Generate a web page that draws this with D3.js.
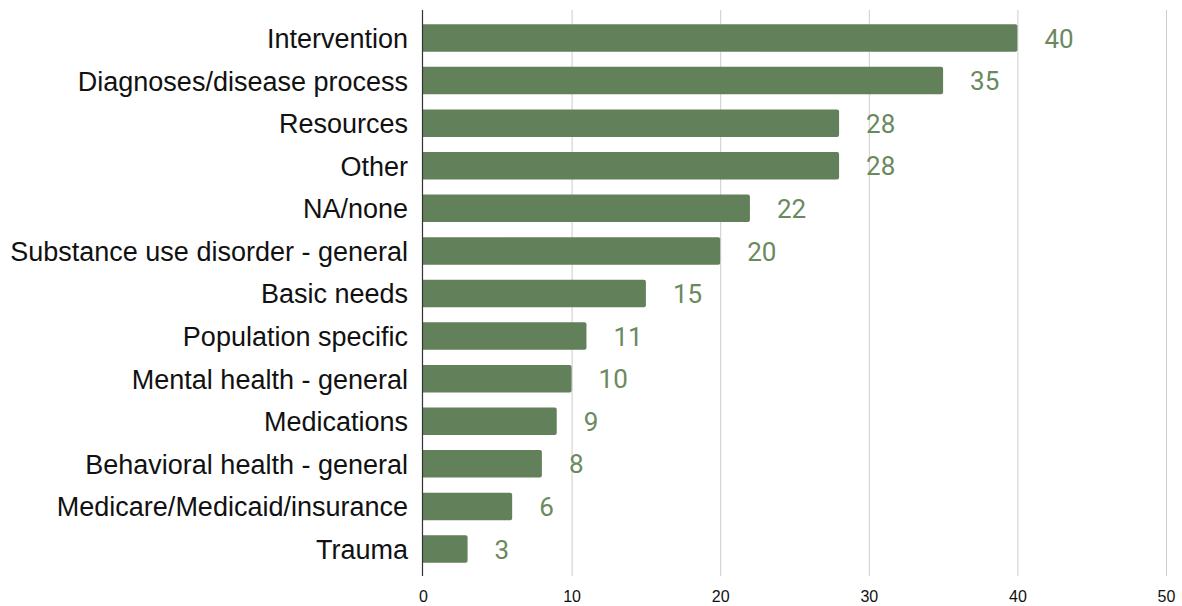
<!DOCTYPE html>
<html>
<head>
<meta charset="utf-8">
<script src="https://cdn.jsdelivr.net/npm/d3@7"></script>
<style>
  html, body { margin: 0; padding: 0; background: #fff; }
  svg { display: block; font-family: "Liberation Sans", Arial, sans-serif; }
</style>
</head>
<body>
<svg id="chart" width="1182" height="606"></svg>
<script>
// Topic categories and their counts
const categories = [
  "Intervention",
  "Diagnoses/disease process",
  "Resources",
  "Other",
  "NA/none",
  "Substance use disorder - general",
  "Basic needs",
  "Population specific",
  "Mental health - general",
  "Medications",
  "Behavioral health - general",
  "Medicare/Medicaid/insurance",
  "Trauma"
];
const counts = [40, 35, 28, 28, 22, 20, 15, 11, 10, 9, 8, 6, 3];
const xTicks = [0, 10, 20, 30, 40, 50];

const barColor = "#62805a";
const labelColor = "#6a8a5e";

const svg = d3.select("#chart");

const x = d3.scaleLinear().domain([0, 50]).range([423, 1166]);
const y = d3.scaleBand().domain(categories).range([16.7, 570.3]).paddingInner(0.355).paddingOuter(0.1775);

// vertical gridlines
svg.append("g")
  .selectAll("line")
  .data(xTicks.filter(d => d > 0))
  .join("line")
  .attr("x1", d => x(d) + 0.5)
  .attr("x2", d => x(d) + 0.5)
  .attr("y1", 10)
  .attr("y2", 576)
  .attr("stroke", "#cccccc")
  .attr("stroke-width", 1);

// bars with slightly rounded right ends
const r = 2;
svg.append("g")
  .selectAll("path")
  .data(categories)
  .join("path")
  .attr("fill", barColor)
  .attr("d", (c, i) => {
    const x0 = x(0), x1 = x(counts[i]);
    const y0 = y(c), h = y.bandwidth();
    return `M${x0},${y0}H${x1 - r}Q${x1},${y0} ${x1},${y0 + r}V${y0 + h - r}Q${x1},${y0 + h} ${x1 - r},${y0 + h}H${x0}Z`;
  });

// baseline axis
svg.append("line")
  .attr("x1", x(0) - 0.5).attr("x2", x(0) - 0.5)
  .attr("y1", 10).attr("y2", 576)
  .attr("stroke", "#333333")
  .attr("stroke-width", 1.2);

// value labels
svg.append("g")
  .selectAll("text")
  .data(categories)
  .join("text")
  .attr("x", (c, i) => x(counts[i]) + 27)
  .attr("y", c => y(c) + y.bandwidth() / 2)
  .attr("dy", "0.37em")
  .attr("fill", labelColor)
  .attr("font-family", "Roboto, 'Liberation Sans', Arial, sans-serif")
  .attr("font-size", 26)
  .text((c, i) => counts[i]);

// category labels
svg.append("g")
  .selectAll("text")
  .data(categories)
  .join("text")
  .attr("x", 408)
  .attr("y", c => y(c) + y.bandwidth() / 2)
  .attr("dy", "0.37em")
  .attr("text-anchor", "end")
  .attr("fill", "#111111")
  .attr("font-size", 27)
  .text(c => c);

// x tick labels
const xAxis = d3.axisBottom(x).tickValues(xTicks).tickSize(0).tickPadding(0);
const gx = svg.append("g").attr("transform", "translate(0,590.5)").call(xAxis);
gx.select(".domain").remove();
gx.selectAll("text")
  .attr("font-family", "'Liberation Sans', Arial, sans-serif")
  .attr("font-size", 16)
  .attr("fill", "#111111");
</script>
</body>
</html>
